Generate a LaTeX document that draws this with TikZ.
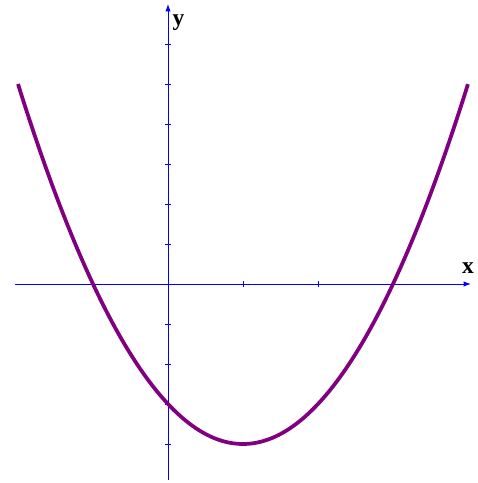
\documentclass[tikz,border=0pt]{standalone}
\usepackage{fontspec}
\setmainfont{Liberation Serif}
\usetikzlibrary{arrows.meta}

\begin{document}
\begin{tikzpicture}[
  x=2.25cm, y=1.2cm,
  axis/.style={blue, line width=0.8pt, -{Latex[length=2.2mm,width=1.6mm]}},
  tick/.style={blue, line width=0.8pt},
  graph/.style={line width=3.2pt, color={rgb,255:red,128;green,0;blue,128}},
  lbl/.style={font=\fontsize{20}{24}\selectfont\bfseries, inner sep=0pt, anchor=base}
]
  \useasboundingbox (-2.24,-4.975) rectangle (4.12,7.1);

  % axes
  \coordinate (xstart) at (-2.04,0);
  \coordinate (xend) at (4.04,0);
  \coordinate (ystart) at (0,-4.9);
  \coordinate (yend) at (0,7.0);
  \draw[axis] (xstart) -- (xend);
  \draw[axis] (ystart) -- (yend);
  \node[lbl] (xlabel) at (4.0,0.275) {x};
  \node[lbl] (ylabel) at (0.14,6.45) {y};

  % ticks
  \foreach \t in {-1,1,2,3}
    \draw[tick] (\t,-0.075) -- (\t,0.075);
  \foreach \t in {-4,-3,-2,-1,1,2,3,4,5,6}
    \draw[tick] (-0.04,\t) -- (0.04,\t);

  % parabola y = x^2 - 2x - 3
  \draw[graph] plot[domain=-2:4, samples=120] (\x,{\x*\x-2*\x-3});
\end{tikzpicture}
\end{document}
